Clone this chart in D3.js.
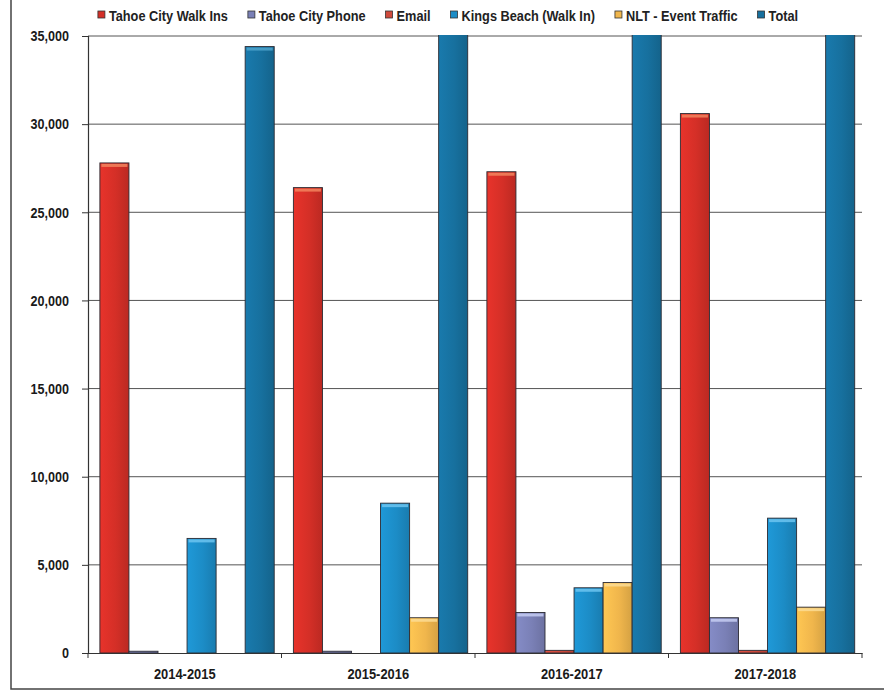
<!DOCTYPE html>
<html>
<head>
<meta charset="utf-8">
<script src="https://cdn.jsdelivr.net/npm/d3@7/dist/d3.min.js"></script>
<style>
  html, body { margin: 0; padding: 0; background: #fff; }
  svg { display: block; }
  text { font-family: "Liberation Sans", Arial, Helvetica, sans-serif; }
</style>
</head>
<body>
<svg id="chart" width="884" height="691"></svg>
<script>
// Visitor contacts by fiscal year
const years = ["2014-2015", "2015-2016", "2016-2017", "2017-2018"];
const seriesNames = ["Tahoe City Walk Ins", "Tahoe City Phone", "Email", "Kings Beach (Walk In)", "NLT - Event Traffic", "Total"];
const tahoeCityWalkIns = [27800, 26400, 27300, 30600];
const tahoeCityPhone   = [100, 100, 2300, 2000];
const email            = [0, 0, 150, 150];
const kingsBeachWalkIn = [6500, 8500, 3700, 7650];
const nltEventTraffic  = [0, 2000, 4000, 2600];
const total            = [34400, 37000, 37450, 42950];
const yTicks = [0, 5000, 10000, 15000, 20000, 25000, 30000, 35000];

const seriesValues = [tahoeCityWalkIns, tahoeCityPhone, email, kingsBeachWalkIn, nltEventTraffic, total];
const colors = ["#d42f27", "#7a80b6", "#cf4a3c", "#1c8cc6", "#f0b64c", "#17709e"];
const tops   = ["#f2845e", "#c6ccf2", "#f09080", "#6cc4f0", "#fbdc94", "#4fa4cc"];

const svg = d3.select("#chart");
const W = 884, H = 691;
const plot = { left: 88, right: 862, top: 36, bottom: 653 };

// squeeze text horizontally, keeping its anchor point in place
function condense(sel, f) {
  sel.each(function () {
    const t = d3.select(this);
    const x = +t.attr("x") || 0;
    t.attr("x", x / f).attr("transform", `scale(${f},1)`);
  });
}

svg.append("rect").attr("width", W).attr("height", H).attr("fill", "#fff");

// outer frame (left and bottom edges)
svg.append("path")
  .attr("d", `M11,0 V689 H884`)
  .attr("fill", "none").attr("stroke", "#444").attr("stroke-width", 1.5);

const x0 = d3.scaleBand().domain(years).range([plot.left, plot.right]).paddingInner(0).paddingOuter(0);
const x1 = d3.scaleBand().domain(seriesNames).range([0, x0.bandwidth()])
  .paddingInner(0).paddingOuter(0.33).align(0.62);
const y = d3.scaleLinear().domain([0, 35000]).range([plot.bottom, plot.top]);

// gridlines
svg.append("g")
  .selectAll("line").data(yTicks.filter(d => d > 0)).join("line")
  .attr("x1", plot.left).attr("x2", plot.right)
  .attr("y1", d => y(d)).attr("y2", d => y(d))
  .attr("stroke", "#555").attr("stroke-width", 1);

// gradients for bars
const defs = svg.append("defs");
colors.forEach((c, i) => {
  const g = defs.append("linearGradient").attr("id", "g" + i)
    .attr("x1", "0").attr("x2", "1").attr("y1", "0").attr("y2", "0");
  g.append("stop").attr("offset", "0%").attr("stop-color", d3.color(c).brighter(0.25));
  g.append("stop").attr("offset", "55%").attr("stop-color", c);
  g.append("stop").attr("offset", "100%").attr("stop-color", d3.color(c).darker(0.35));
});
defs.append("clipPath").attr("id", "plotClip").append("rect")
  .attr("x", plot.left).attr("y", plot.top - 1)
  .attr("width", plot.right - plot.left).attr("height", plot.bottom - plot.top + 1);

const rows = [];
years.forEach((yr, yi) => {
  seriesNames.forEach((s, si) => {
    rows.push({ year: yr, series: s, si, value: seriesValues[si][yi] });
  });
});

const bars = svg.append("g").attr("clip-path", "url(#plotClip)")
  .selectAll("g").data(rows.filter(d => d.value > 0)).join("g")
  .attr("transform", d => `translate(${x0(d.year) + x1(d.series)},0)`);

bars.append("rect")
  .attr("x", 0).attr("width", x1.bandwidth())
  .attr("y", d => y(d.value))
  .attr("height", d => y(0) - y(d.value))
  .attr("fill", d => `url(#g${d.si})`)
  .attr("stroke", "#2b2b33").attr("stroke-width", 0.9);

bars.filter(d => y(0) - y(d.value) > 8).append("rect")
  .attr("x", 1.5).attr("width", x1.bandwidth() - 3)
  .attr("y", d => y(d.value) + 1).attr("height", 3)
  .attr("fill", d => tops[d.si]).attr("opacity", 0.85);

// y axis
const yAxis = svg.append("g").attr("transform", `translate(${plot.left},0)`)
  .call(d3.axisLeft(y).tickValues(yTicks).tickFormat(d3.format(",")).tickSize(6).tickPadding(13));
yAxis.select(".domain").attr("stroke", "#333").attr("stroke-width", 1.2);
yAxis.selectAll(".tick line").attr("stroke", "#333");
yAxis.selectAll("text")
  .attr("font-family", null)
  .attr("font-size", 15).attr("font-weight", "bold").attr("fill", "#1a1a1a");
condense(yAxis.selectAll(".tick text"), 0.84);

// x axis
const xAxis = svg.append("g").attr("transform", `translate(0,${plot.bottom})`)
  .call(d3.axisBottom(x0).tickSize(0).tickPadding(15));
xAxis.select(".domain").attr("stroke", "#333").attr("stroke-width", 1.2);
xAxis.selectAll("text")
  .attr("font-family", null)
  .attr("font-size", 15).attr("font-weight", "bold").attr("fill", "#1a1a1a");
condense(xAxis.selectAll(".tick text"), 0.86);
// category boundary ticks
svg.append("g").selectAll("line")
  .data(years.map(d => x0(d)).concat([plot.right]))
  .join("line")
  .attr("x1", d => d).attr("x2", d => d)
  .attr("y1", plot.bottom).attr("y2", plot.bottom + 5)
  .attr("stroke", "#333");

// legend
const legendGap = 11;
const legend = svg.append("g").attr("transform", "translate(0,17)");
const items = legend.selectAll("g").data(seriesNames).join("g");
items.append("rect")
  .attr("x", 0).attr("y", -6).attr("width", 7).attr("height", 7)
  .attr("fill", (d, i) => colors[i]).attr("stroke", "#333").attr("stroke-width", 0.8);
const legendText = items.append("text")
  .attr("x", legendGap).attr("y", 0).attr("dy", "0.3em")
  .attr("font-size", 14.5).attr("font-weight", "bold").attr("fill", "#222")
  .text(d => d);
condense(legendText, 0.88);
let cx = 0;
const offsets = [];
items.each(function () {
  offsets.push(cx);
  cx += legendGap + d3.select(this).select("text").node().getComputedTextLength() * 0.88 + 20;
});
const totalW = cx - 20;
const start = 448 - totalW / 2;
items.attr("transform", (d, i) => `translate(${start + offsets[i]},0)`);
</script>
</body>
</html>
